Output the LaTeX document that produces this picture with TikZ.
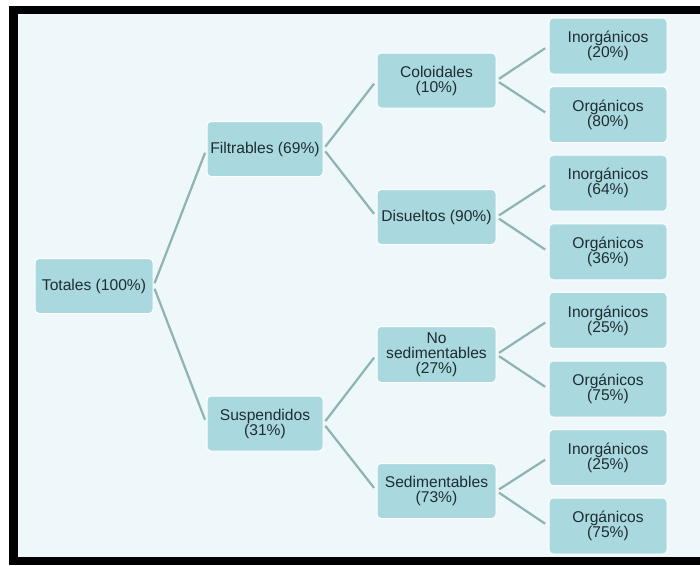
\documentclass[tikz,border=0pt]{standalone}
\usepackage{fontspec}
\setmainfont{Liberation Sans}
\definecolor{fondo}{HTML}{EEF7F9}
\definecolor{caja}{HTML}{A9D9DE}
\definecolor{linea}{HTML}{8DB3B4}
\definecolor{texto}{HTML}{1E2D31}
\tikzset{
    kasten/.style={fill=caja, draw=white, line width=1pt, rounded corners=4pt,
        minimum width=118pt, minimum height=55pt, inner sep=0pt, align=center,
        text=texto, font=\fontsize{15.6}{15}\selectfont},
    linie/.style={draw=linea, line width=2.2pt, shorten <=3pt, shorten >=4pt}
}

\begin{document}
\begin{tikzpicture}[x=1pt,y=-1pt]

% Rahmen
\useasboundingbox (0,0) rectangle (700,565);
\fill[white] (0,0) rectangle (700,565);
\fill[black] (9,6) rectangle (700,565);
\fill[fondo] (18,14) rectangle (700,557);

% Spalten
\def\xa{94}
\def\xb{265}
\def\xc{436.5}
\def\xd{608}

% Ebene 0
\node[kasten] (tot) at (\xa,286) {Totales (100\%)};

% Ebene 1
\node[kasten, minimum width=116pt] (fil) at (\xb,149) {Filtrables (69\%)};
\node[kasten, minimum width=116pt] (sus) at (\xb,423.5) {Suspendidos\\(31\%)};

% Ebene 2
\node[kasten, minimum width=119pt] (col) at (\xc,80.5) {Coloidales\\(10\%)};
\node[kasten, minimum width=119pt] (dis) at (\xc,217) {Disueltos (90\%)};
\node[kasten, minimum width=119pt, minimum height=56pt] (nsed) at (\xc,354.5) {No\\sedimentables\\(27\%)};
\node[kasten, minimum width=119pt] (sed) at (\xc,491) {Sedimentables\\(73\%)};

% Ebene 3
\node[kasten, minimum height=56pt] (inoA) at (\xd,46) {Inorgánicos\\(20\%)};
\node[kasten, minimum height=56pt] (orgA) at (\xd,114.6) {Orgánicos\\(80\%)};
\node[kasten, minimum height=56pt] (inoB) at (\xd,183.2) {Inorgánicos\\(64\%)};
\node[kasten, minimum height=56pt] (orgB) at (\xd,251.8) {Orgánicos\\(36\%)};
\node[kasten, minimum height=56pt] (inoC) at (\xd,320.4) {Inorgánicos\\(25\%)};
\node[kasten, minimum height=56pt] (orgC) at (\xd,389) {Orgánicos\\(75\%)};
\node[kasten, minimum height=56pt] (inoD) at (\xd,457.6) {Inorgánicos\\(25\%)};
\node[kasten, minimum height=56pt] (orgD) at (\xd,526) {Orgánicos\\(75\%)};

% Verbindungen
\draw[linie] (tot.east) -- (fil.west);
\draw[linie] (tot.east) -- (sus.west);
\draw[linie] (fil.east) -- (col.west);
\draw[linie] (fil.east) -- (dis.west);
\draw[linie] (sus.east) -- (nsed.west);
\draw[linie] (sus.east) -- (sed.west);
\draw[linie] (col.east) -- (inoA.west);
\draw[linie] (col.east) -- (orgA.west);
\draw[linie] (dis.east) -- (inoB.west);
\draw[linie] (dis.east) -- (orgB.west);
\draw[linie] (nsed.east) -- (inoC.west);
\draw[linie] (nsed.east) -- (orgC.west);
\draw[linie] (sed.east) -- (inoD.west);
\draw[linie] (sed.east) -- (orgD.west);
\end{tikzpicture}
\end{document}
